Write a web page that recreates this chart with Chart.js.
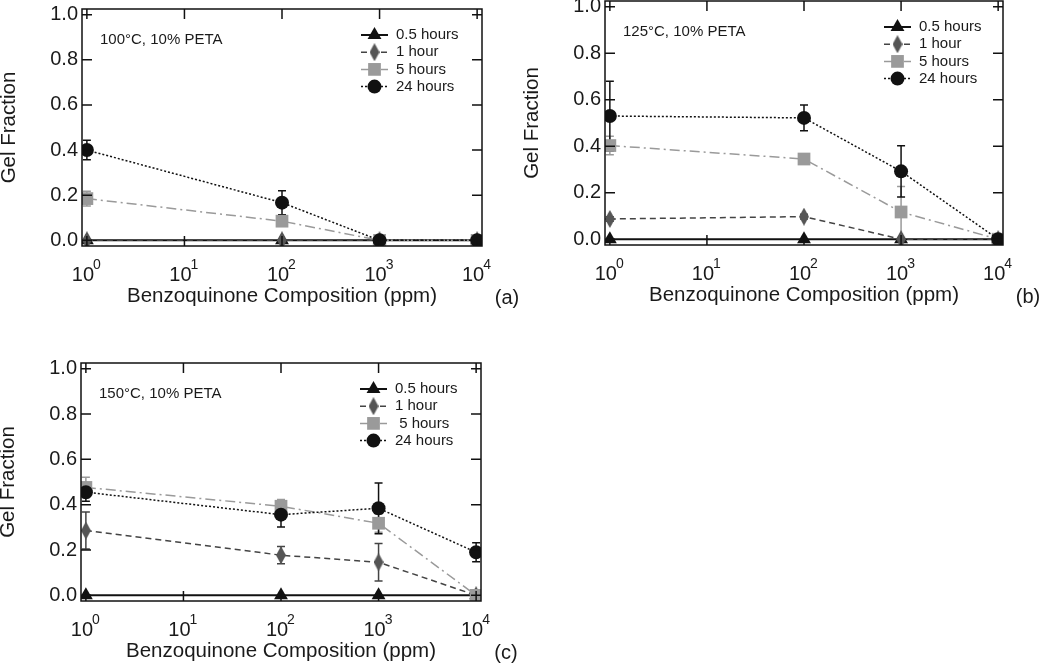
<!DOCTYPE html>
<html>
<head>
<meta charset="utf-8">
<script src="https://cdn.jsdelivr.net/npm/chart.js@4.4.0/dist/chart.umd.min.js"></script>
<style>
  html, body { margin: 0; padding: 0; background: #fff; width: 1050px; height: 668px; overflow: hidden; position: relative; }
  canvas { position: absolute; }
</style>
</head>
<body>
<canvas id="chartA"></canvas>
<canvas id="chartB"></canvas>
<canvas id="chartC"></canvas>
<script>
// Gel fraction vs benzoquinone composition, three cure temperatures

const concentrations = [1, 100, 1000, 10000];
const seriesNames = ['0.5 hours', '1 hour', '5 hours', '24 hours'];
const seriesNamesC = ['0.5 hours', '1 hour', ' 5 hours', '24 hours'];
const xTickValues = [1, 10, 100, 1000, 10000];
const xTickBase = '10';
const xTickPowers = ['0', '1', '2', '3', '4'];
const yTickValues = [0, 0.2, 0.4, 0.6, 0.8, 1.0];

// (a) 100°C
const gelA_05h = [0, 0, 0, 0];
const gelA_1h = [0, 0, 0, 0];
const gelA_5h = [0.185, 0.085, 0, 0];
const gelA_24h = [0.40, 0.167, 0, 0];
const errA_1h = [0, 0, 0, 0];
const errA_5h = [0.033, 0.02, 0, 0];
const errA_24h = [0.043, 0.053, 0, 0];

// (b) 125°C
const gelB_05h = [0, 0, 0, 0];
const gelB_1h = [0.087, 0.097, 0, 0];
const gelB_5h = [0.403, 0.345, 0.117, 0];
const gelB_24h = [0.53, 0.522, 0.292, 0];
const errB_1h = [0.01, 0.01, 0, 0];
const errB_5h = [0.04, 0.01, 0.11, 0];
const errB_24h = [0.15, 0.055, 0.11, 0];

// (c) 150°C
const gelC_05h = [0, 0, 0, 0];
const gelC_1h = [0.286, 0.177, 0.146, 0];
const gelC_5h = [0.476, 0.393, 0.318, 0];
const gelC_24h = [0.455, 0.356, 0.384, 0.19];
const errC_1h = [0.082, 0.038, 0.083, 0];
const errC_5h = [0.045, 0.03, 0.04, 0];
const errC_24h = [0.04, 0.055, 0.112, 0.042];

// canvas margins round the plot frame
const PAD_L = 100, PAD_T = 30, PAD_R = 60, PAD_B = 90;
const FONT = "'Liberation Sans', Arial, sans-serif";
const INK = '#1a1a1a';
const TICK_SIZE = 20;
const X_LABEL_SHIFT = -4;

Chart.defaults.font.family = FONT;
Chart.defaults.color = INK;

// narrow diamond marker for the 1 hour series
const diamond = document.createElement('canvas');
diamond.width = 10; diamond.height = 18;
(function () {
  const c = diamond.getContext('2d');
  c.fillStyle = '#555';
  c.beginPath();
  c.moveTo(5, 0); c.lineTo(10, 9); c.lineTo(5, 18); c.lineTo(0, 9);
  c.closePath(); c.fill();
})();

const seriesStyles = [
  { color: '#111', dash: [], pointStyle: 'triangle', radius: 8, width: 2, order: 4 },
  { color: '#444', dash: [6, 4], pointStyle: diamond, radius: 8, width: 1.5, order: 3 },
  { color: '#9a9a9a', dash: [10, 4, 2, 4], pointStyle: 'rect', radius: 9, width: 1.5, order: 2 },
  { color: '#111', dash: [2, 2], pointStyle: 'circle', radius: 7, width: 1.5, order: 1 }
];

const errorBars = {
  id: 'errorBars',
  beforeDatasetsDraw(chart) {
    const ctx = chart.ctx;
    const y = chart.scales.y;
    chart.data.datasets.forEach((ds, i) => {
      if (!ds.errors) return;
      const meta = chart.getDatasetMeta(i);
      ctx.save();
      ctx.strokeStyle = ds.borderColor;
      ctx.lineWidth = 1.5;
      ctx.beginPath();
      meta.data.forEach((pt, j) => {
        const e = ds.errors[j];
        if (!e) return;
        const top = y.getPixelForValue(ds.data[j].y + e);
        const bot = y.getPixelForValue(ds.data[j].y - e);
        ctx.moveTo(pt.x, top); ctx.lineTo(pt.x, bot);
        ctx.moveTo(pt.x - 4, top); ctx.lineTo(pt.x + 4, top);
        ctx.moveTo(pt.x - 4, bot); ctx.lineTo(pt.x + 4, bot);
      });
      ctx.stroke();
      ctx.restore();
    });
  }
};

const frameTicks = {
  id: 'frameTicks',
  afterDatasetsDraw(chart) {
    const { ctx, chartArea: a, scales: { x, y } } = chart;
    ctx.save();
    ctx.strokeStyle = '#111';
    ctx.lineWidth = 1.5;
    ctx.strokeRect(a.left, a.top, a.width, a.height);
    ctx.beginPath();
    yTickValues.forEach(v => {
      const py = y.getPixelForValue(v);
      ctx.moveTo(a.left, py); ctx.lineTo(a.left + 10, py);
      ctx.moveTo(a.right, py); ctx.lineTo(a.right - 10, py);
    });
    xTickValues.forEach(v => {
      const px = x.getPixelForValue(v);
      ctx.moveTo(px, a.bottom); ctx.lineTo(px, a.bottom - 10);
      ctx.moveTo(px, a.top); ctx.lineTo(px, a.top + 10);
    });
    ctx.stroke();
    ctx.restore();
  }
};

const insideLegend = {
  id: 'insideLegend',
  afterDraw(chart, args, opts) {
    const { ctx, chartArea: a, scales: { x } } = chart;
    ctx.save();
    ctx.fillStyle = INK;

    // exponents for the 10^n tick labels
    ctx.font = TICK_SIZE + 'px ' + FONT;
    const baseW = ctx.measureText(xTickBase).width;
    ctx.font = '14px ' + FONT;
    ctx.textAlign = 'left';
    ctx.textBaseline = 'alphabetic';
    xTickValues.forEach((v, i) => {
      const px = x.getPixelForValue(v) + X_LABEL_SHIFT;
      ctx.fillText(xTickPowers[i], px + baseW / 2 - 1, a.bottom + 23);
    });

    // condition note, top left
    ctx.font = '15px ' + FONT;
    ctx.textBaseline = 'middle';
    ctx.fillText(opts.note, a.left + 18, a.top + 31);

    // legend rows, top right
    chart.data.datasets.forEach((ds, i) => {
      const rowY = a.top + 26 + i * 17.2;
      const x0 = a.left + 279, x1 = a.left + 306;
      ctx.strokeStyle = ds.borderColor;
      ctx.lineWidth = ds.borderWidth;
      ctx.setLineDash(ds.borderDash);
      ctx.beginPath();
      ctx.moveTo(x0, rowY); ctx.lineTo(x1, rowY);
      ctx.stroke();
      ctx.setLineDash([]);
      ctx.fillStyle = ds.pointBackgroundColor;
      Chart.helpers.drawPoint(ctx, { pointStyle: ds.pointStyle, radius: ds.pointRadius, rotation: 0, borderWidth: 0 }, (x0 + x1) / 2, rowY);
      ctx.fillStyle = INK;
      ctx.fillText(opts.labels[i], a.left + 314, rowY);
    });

    // panel letter
    ctx.font = '20px ' + FONT;
    ctx.textAlign = 'center';
    ctx.fillText(opts.letter, a.right + 25, a.bottom + 52);
    ctx.restore();
  }
};

function buildPanel(canvasId, frame, values, errors, labels, note, letter) {
  const canvas = document.getElementById(canvasId);
  canvas.width = PAD_L + frame.w + PAD_R;
  canvas.height = PAD_T + frame.h + PAD_B;
  canvas.style.left = (frame.left - PAD_L) + 'px';
  canvas.style.top = (frame.top - PAD_T) + 'px';

  const datasets = values.map((vals, i) => {
    const st = seriesStyles[i];
    return {
      label: labels[i],
      data: concentrations.map((c, j) => ({ x: c, y: vals[j] })),
      errors: errors[i],
      borderColor: st.color,
      backgroundColor: st.color,
      borderWidth: st.width,
      borderDash: st.dash,
      pointStyle: st.pointStyle,
      pointRadius: st.radius,
      pointBackgroundColor: i === 1 ? '#555' : st.color,
      pointBorderWidth: 0,
      tension: 0,
      fill: false,
      order: st.order
    };
  });

  return new Chart(canvas, {
    type: 'line',
    data: { datasets },
    options: {
      responsive: false,
      animation: false,
      layout: { padding: { left: 0, top: PAD_T, right: PAD_R, bottom: 0 } },
      plugins: {
        legend: { display: false },
        tooltip: { enabled: false },
        insideLegend: { labels, note, letter }
      },
      scales: {
        x: {
          type: 'logarithmic',
          min: Math.pow(10, -0.05),
          max: Math.pow(10, 4.05),
          afterBuildTicks: s => { s.ticks = xTickValues.map(v => ({ value: v })); },
          afterFit: s => { s.height = PAD_B; },
          ticks: {
            callback: () => xTickBase,
            autoSkip: false, maxRotation: 0, padding: 17, labelOffset: X_LABEL_SHIFT,
            font: { size: TICK_SIZE }, color: INK
          },
          grid: { display: false, drawTicks: false },
          border: { display: false },
          title: {
            display: true, text: 'Benzoquinone Composition (ppm)',
            font: { size: 20.5 }, color: INK, padding: { top: 0, bottom: 27 }
          }
        },
        y: {
          type: 'linear',
          min: -0.025,
          max: 1.025,
          afterBuildTicks: s => { s.ticks = yTickValues.map(v => ({ value: v })); },
          afterFit: s => { s.width = PAD_L; },
          ticks: {
            callback: v => v.toFixed(1),
            padding: 4, font: { size: TICK_SIZE }, color: INK
          },
          grid: { display: false, drawTicks: false },
          border: { display: false },
          title: {
            display: true, text: 'Gel Fraction',
            font: { size: 20.5 }, color: INK, padding: { top: 15, bottom: 0 }
          }
        }
      }
    },
    plugins: [errorBars, frameTicks, insideLegend]
  });
}

buildPanel('chartA', { left: 82, top: 9, w: 400, h: 237 },
  [gelA_05h, gelA_1h, gelA_5h, gelA_24h],
  [null, errA_1h, errA_5h, errA_24h],
  seriesNames, '100°C, 10% PETA', '(a)');

buildPanel('chartB', { left: 605, top: 1, w: 398, h: 244 },
  [gelB_05h, gelB_1h, gelB_5h, gelB_24h],
  [null, errB_1h, errB_5h, errB_24h],
  seriesNames, '125°C, 10% PETA', '(b)');

buildPanel('chartC', { left: 81, top: 363, w: 400, h: 238 },
  [gelC_05h, gelC_1h, gelC_5h, gelC_24h],
  [null, errC_1h, errC_5h, errC_24h],
  seriesNamesC, '150°C, 10% PETA', '(c)');
</script>
</body>
</html>
